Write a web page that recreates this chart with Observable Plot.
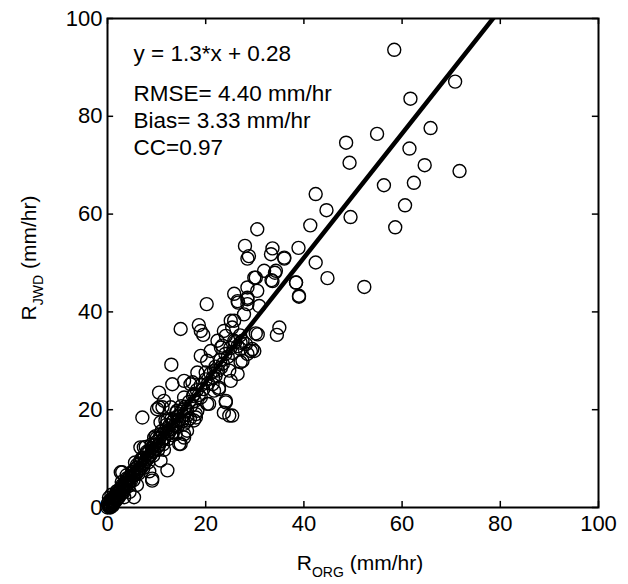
<!DOCTYPE html>
<html>
<head>
<meta charset="utf-8">
<script src="https://cdn.jsdelivr.net/npm/d3@7"></script>
<script src="https://cdn.jsdelivr.net/npm/@observablehq/plot@0.6"></script>
<style>
  html, body { margin: 0; padding: 0; background: #fff; }
  #chart { width: 628px; height: 584px; }
</style>
</head>
<body>
<div id="chart"></div>
<script>
// ---- data ----
const rOrg = [
  58.4,70.8,61.7,65.8,54.9,48.6,49.3,61.5,64.6,71.7,56.3,62.4,60.6,58.6,49.5,42.4,44.6,41.3,52.3,44.8,
  42.4,38.9,38.4,39.0,30.5,28.0,28.5,33.6,36.0,34.1,33.4,30.2,30.5,25.8,28.5,20.2,35.0,34.5,14.9,18.6,
  19.5,30.2,25.1,27.8,23.7,22.4,19.0,13.0,20.3,21.7,26.5,27.5,29.2,18.3,15.6,13.2,10.5,10.5,7.1,16.9,
  19.0,22.7,24.1,23.7,24.8,20.3,14.2,16.3,11.8,12.2,14.6,9.5,6.7,12.2,9.1,5.4,3.0,6.7,10.8,15.6,
  18.0,21.7,26.6,28.5,27.1,23.1,20.0,25.1,21.4,26.5,28.5,25.8,30.9,28.5,29.9,33.6,34.3,31.9,28.8,33.3,
  36.0,38.4,39.0,23.1,25.8,27.1,29.9,28.2,21.0,19.0,24.1,23.4,25.4,27.5,30.6,29.5,28.5,27.1,24.8,22.0,
  17.3,22.7,24.1,25.4,20.7,17.6,15.6,11.5,12.9,10.1,15.6,18.3,17.6,13.5,10.8,15.6,11.2,9.5,7.4,9.1,
  2.7,16.2,14.9,18.0,12.2,13.9,10.8,15.6,
  0.0,0.2,0.4,0.1,0.6,0.9,1.1,0.7,1.4,1.6,2.1,2.4,1.9,2.7,3.3,3.6,2.9,4.1,4.4,3.9,
  0.3,0.5,0.8,1.0,1.2,1.5,1.8,2.0,2.2,2.5,2.8,3.0,3.2,3.5,3.8,4.0,4.2,4.5,4.8,5.0,
  5.2,5.5,5.8,6.0,6.2,6.5,6.8,7.0,7.2,7.5,7.8,8.0,8.2,8.5,8.8,9.0,9.2,9.5,9.8,10.0,
  10.3,10.6,11.0,11.3,11.6,12.0,12.3,12.6,13.0,13.4,13.8,14.2,14.6,15.0,15.4,15.8,16.2,16.6,17.0,17.4,
  17.8,18.2,18.6,19.0,19.5,20.0,20.5,21.0,21.5,22.0,22.5,23.0,23.5,24.0,24.5,25.0,25.5,26.0,26.5,27.0,
  6.0,8.5,4.5,11.5,7.8,5.6,9.8,13.2,3.4,16.8,
  0.5,1.0,1.5,2.0,2.5,3.0,3.5,4.0,4.5,5.0,5.5,6.0,6.5,7.0,7.5,8.0,8.5,9.0,9.5,10.0,
  10.5,11.0,11.5,12.0,12.5,13.0,13.5,14.0,14.5,15.0,
  1.3,2.3,3.3,4.3,5.3,6.3,7.3,8.3,9.3,10.3,11.3,12.3,13.3,14.3,15.3,16.3,
  0.2,0.6,1.0,0.3,0.8
];
const rJwd = [
  93.6,87.1,83.6,77.6,76.4,74.6,70.5,73.4,70.0,68.8,65.9,66.4,61.8,57.3,59.4,64.1,60.8,57.7,45.1,46.9,
  50.1,53.1,46.0,43.1,56.9,53.5,50.9,53.0,50.9,48.0,46.5,47.0,44.3,43.7,42.9,41.6,36.8,35.3,36.5,37.3,
  35.3,35.6,38.2,39.5,36.1,34.1,31.0,29.2,30.0,28.0,27.3,30.0,32.0,27.6,25.9,25.2,23.5,20.5,18.4,25.2,
  22.5,24.2,21.5,19.4,18.8,21.2,19.8,17.8,17.8,15.7,13.0,14.3,12.3,7.6,5.5,2.1,7.2,9.6,9.6,15.0,
  18.4,23.9,41.9,41.6,33.7,28.6,27.6,25.9,25.2,42.2,42.6,38.2,41.2,45.0,47.0,46.3,48.4,48.4,51.4,51.8,
  51.1,46.0,43.3,32.7,34.1,32.4,32.0,33.4,32.0,36.1,35.1,33.1,36.8,34.1,35.4,32.4,31.4,29.7,28.0,26.9,
  25.6,24.5,21.8,18.8,21.2,23.2,22.5,21.8,20.5,20.1,20.1,19.8,17.8,17.8,17.4,17.1,20.5,12.7,12.3,5.9,
  7.2,15.7,13.0,19.1,17.8,15.0,15.0,14.3,
  0.0,0.3,0.1,0.8,0.5,0.9,1.4,1.6,1.1,2.4,1.9,3.1,3.3,3.9,4.1,4.9,5.2,5.3,6.1,6.6,
  0.5,0.2,1.2,0.6,1.8,2.2,1.5,3.0,2.5,3.5,2.8,4.2,3.6,5.0,4.4,5.6,4.8,6.2,5.5,7.0,
  6.4,7.8,6.8,8.2,7.4,9.0,8.0,9.8,8.6,10.2,9.5,11.0,10.0,11.5,10.8,12.2,11.4,12.8,12.0,13.5,
  12.6,14.2,13.6,15.0,14.2,16.0,15.2,16.8,16.0,17.6,16.8,18.6,17.8,19.6,18.8,20.6,19.8,21.6,20.8,22.8,
  21.8,24.0,23.0,25.0,24.2,26.2,25.4,27.4,26.6,28.8,28.0,30.2,29.4,31.4,30.8,32.6,31.6,33.8,33.0,35.2,
  4.6,7.4,3.2,11.8,12.4,9.2,14.6,14.8,2.1,18.2,
  0.4,1.9,1.6,3.4,2.7,4.6,4.1,6.0,5.4,7.3,6.6,8.7,7.9,10.1,9.1,11.4,10.4,12.9,11.6,14.2,
  12.8,15.6,14.1,16.9,15.3,18.1,16.7,19.4,18.0,20.7,
  0.9,2.1,3.2,4.4,5.6,6.9,8.1,9.2,10.6,11.8,12.9,14.0,15.4,16.6,17.7,18.9,
  1.1,0.0,0.3,2.0,2.6
];
const tickValues = [0, 20, 40, 60, 80, 100];
const fitSlope = 1.27;      // drawn fit line (label rounds to 1.3)
const fitIntercept = 0.28;
const fitRange = [0, 100];
const statLines = ["y = 1.3*x + 0.28", "RMSE= 4.40 mm/hr", "Bias= 3.33 mm/hr", "CC=0.97"];

// ---- build tables ----
const points = rOrg.map((x, i) => ({x, y: rJwd[i]}));
const fitLine = fitRange.map(x => ({x, y: fitSlope * x + fitIntercept}));
const tickLen = 1.25; // inward tick length in data units

const font = "'Liberation Sans', Arial, Helvetica, sans-serif";

const chart = Plot.plot({
  width: 628,
  height: 584,
  marginLeft: 107,
  marginRight: 30,
  marginTop: 18,
  marginBottom: 77,
  style: {fontFamily: font, fontSize: "22px", color: "black", background: "white"},
  x: {domain: [0, 100], ticks: tickValues, label: null},
  y: {domain: [0, 100], ticks: tickValues, label: null},
  marks: [
    Plot.dot(points, {x: "x", y: "y", r: 6.5, stroke: "black", strokeWidth: 1.4, fill: "none"}),
    Plot.line(fitLine, {x: "x", y: "y", stroke: "black", strokeWidth: 4.5, clip: true}),
    // inward ticks on all four sides
    Plot.ruleX(tickValues, {x: d => d, y1: 0, y2: tickLen, stroke: "black", strokeWidth: 1.5}),
    Plot.ruleX(tickValues, {x: d => d, y1: 100, y2: 100 - tickLen, stroke: "black", strokeWidth: 1.5}),
    Plot.ruleY(tickValues, {y: d => d, x1: 0, x2: tickLen, stroke: "black", strokeWidth: 1.5}),
    Plot.ruleY(tickValues, {y: d => d, x1: 100, x2: 100 - tickLen, stroke: "black", strokeWidth: 1.5}),
    Plot.frame({stroke: "black", strokeWidth: 2}),
    Plot.axisX(tickValues, {tickSize: 0, tickPadding: 8, label: null, fontSize: 22}),
    Plot.axisY(tickValues, {tickSize: 0, tickPadding: 5, label: null, fontSize: 22}),
    Plot.text(statLines, {
      text: d => d,
      frameAnchor: "top-left",
      textAnchor: "start",
      lineAnchor: "middle",
      fontSize: 22.5,
      fill: "black",
      className: "stat"
    })
  ]
});

document.getElementById("chart").appendChild(chart);

const svg = d3.select(chart);
// stack the stat lines at their own vertical positions (centre y in px)
const statY = [53, 93, 120, 147];
svg.selectAll("text").each(function() {
  const idx = statLines.indexOf(this.textContent);
  if (idx >= 0) {
    d3.select(this)
      .attr("transform", null)
      .attr("x", 133).attr("y", statY[idx])
      .attr("dy", "0.35em");
  }
});

// axis titles with subscripts
const xt = svg.append("text")
  .attr("x", 360).attr("y", 570)
  .attr("text-anchor", "middle")
  .attr("font-family", font).attr("font-size", 21).attr("fill", "black");
xt.append("tspan").text("R");
xt.append("tspan").attr("font-size", 14).attr("dy", 7).text("ORG");
xt.append("tspan").attr("dy", -7).text(" (mm/hr)");

const yt = svg.append("text")
  .attr("transform", "translate(36,258) rotate(-90)")
  .attr("text-anchor", "middle")
  .attr("font-family", font).attr("font-size", 21).attr("fill", "black");
yt.append("tspan").text("R");
yt.append("tspan").attr("font-size", 14).attr("dy", 7).text("JWD");
yt.append("tspan").attr("dy", -7).text(" (mm/hr)");
</script>
</body>
</html>
